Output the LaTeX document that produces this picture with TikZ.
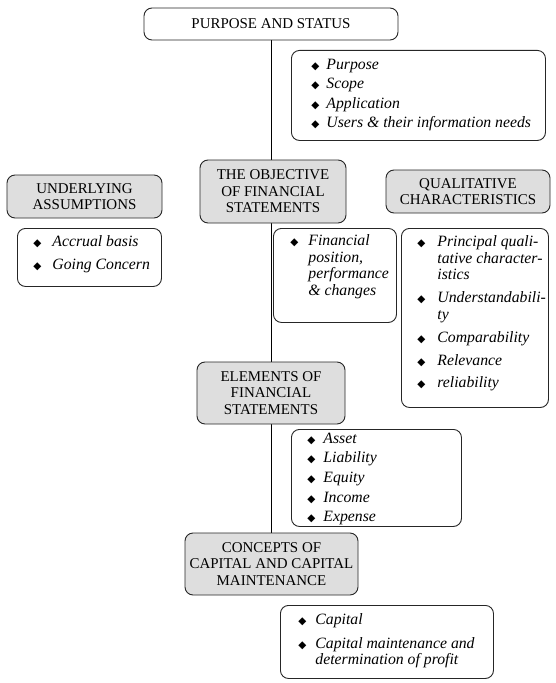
\documentclass[tikz,border=0pt]{standalone}
\usepackage{fontspec}
\setmainfont{Liberation Serif}
\newfontfamily\symfont{DejaVu Sans}
\usetikzlibrary{backgrounds}
\newlength\hangw
\newcommand\bul{{\symfont\fontsize{10.5}{10.5}\selectfont ◆}}
\newcommand\itm[1]{\par\noindent\hangindent=\hangw\hangafter=1\makebox[\hangw][l]{\bul}#1}
% width, height, top pad, left pad, hang, parskip, content
\newcommand\lst[7]{\parbox[c][#2][t]{#1}{\fontsize{15.8}{16.5}\selectfont\itshape
  \leftskip=#4\relax\rightskip=0pt plus 1fil\relax\parfillskip=0pt plus 1fil\relax
  \hangw=#5\relax\parskip=#6\relax
  \vspace*{#3}#7\par}}
\tikzset{
  box/.style={draw=black!85, line width=0.9bp, rounded corners=8bp},
  head/.style={box, fill=black!13, align=center, inner sep=0pt,
    font=\fontsize{15}{16.5}\selectfont},
  lbox/.style={box, fill=white, inner sep=0pt, anchor=north west},
  link/.style={draw=black, line width=0.9bp}
}
\begin{document}
\begin{tikzpicture}[x=1bp, y=-1bp]
\useasboundingbox (0,0) rectangle (556,683);

\node[head, fill=white, minimum width=254bp, minimum height=32bp] (ps) at (271,24) {PURPOSE AND STATUS};
\node[lbox] (pl) at (291,50) {\lst{254bp}{90bp}{5.5bp}{20bp}{15bp}{3bp}{%
  \itm{Purpose}\itm{Scope}\itm{Application}\itm{Users \& their information needs}}};

\node[head, minimum width=155bp, minimum height=43bp] (ua) at (84.5,196.5) {UNDERLYING\\ASSUMPTIONS};
\node[lbox] (ul) at (17,228) {\lst{144bp}{58bp}{1bp}{16bp}{19bp}{6.5bp}{%
  \itm{Accrual basis}\itm{Going Concern}}};

\node[head, minimum width=146bp, minimum height=63bp] (ob) at (273,191.5) {THE OBJECTIVE\\OF FINANCIAL\\STATEMENTS};
\node[lbox] (fl) at (273,228) {\lst{123bp}{94bp}{6.5bp}{17bp}{18bp}{0bp}{%
  \itm{Financial\\position,\\performance\\\& changes}}};

\node[head, minimum width=164bp, minimum height=43bp] (qc) at (468,191.5) {QUALITATIVE\\CHARACTERISTICS};
\node[lbox] (ql) at (401,228) {\lst{147bp}{179bp}{1bp}{16bp}{20bp}{6.5bp}{%
  \itm{Principal quali-\\tative character-\\istics}\itm{Understandabili-\\ty}%
  \itm{Comparability}\itm{Relevance}\itm{reliability}}};

\node[head, minimum width=148bp, minimum height=62bp] (el) at (271,393) {ELEMENTS OF\\FINANCIAL\\STATEMENTS};
\node[lbox] (al) at (291,429) {\lst{170bp}{97bp}{0bp}{16bp}{16bp}{3.25bp}{%
  \itm{Asset}\itm{Liability}\itm{Equity}\itm{Income}\itm{Expense}}};

\node[head, minimum width=173bp, minimum height=62bp] (cc) at (271.5,564) {CONCEPTS OF\\CAPITAL AND CAPITAL\\MAINTENANCE};
\node[lbox] (cl) at (280,605) {\lst{213bp}{73bp}{1.5bp}{18bp}{17bp}{7bp}{%
  \itm{Capital}\itm{Capital maintenance and\\determination of profit}}};

\begin{scope}[on background layer]
\draw[link] (ps.south) -- (ps.south |- cc.north);
\end{scope}
\end{tikzpicture}
\end{document}
